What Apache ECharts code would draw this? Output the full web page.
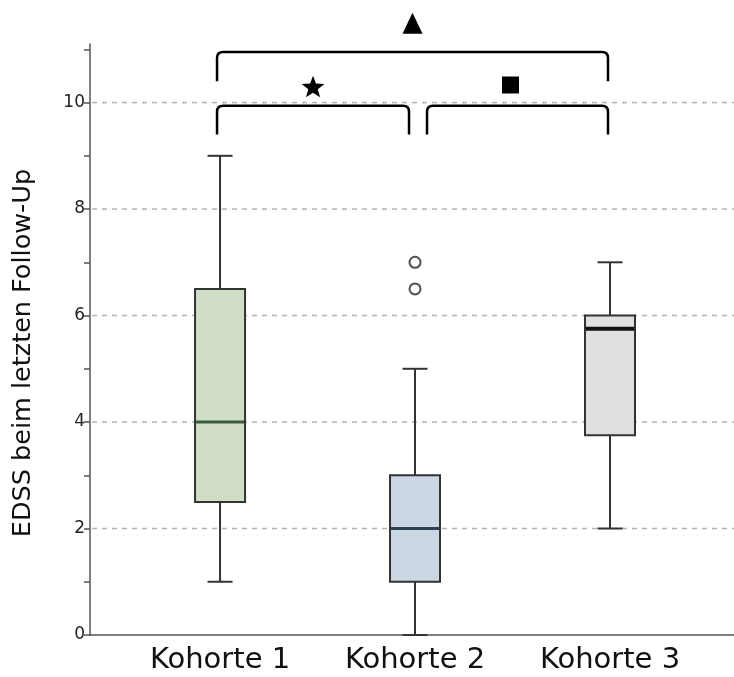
<!DOCTYPE html>
<html>
<head>
<meta charset="utf-8">
<script src="https://cdn.jsdelivr.net/npm/echarts@6/dist/echarts.min.js"></script>
<style>html,body{margin:0;padding:0;background:#fff}#c{width:734px;height:677px}</style>
</head>
<body>
<div id="c"></div>
<script>
const categories = ['Kohorte 1', 'Kohorte 2', 'Kohorte 3'];
const boxMin = [1, 0, 2];
const boxQ1 = [2.5, 1, 3.75];
const boxMedian = [4, 2, 5.75];
const boxQ3 = [6.5, 3, 6];
const boxMax = [9, 5, 7];
const outlierGroup = [2, 2];
const outlierValues = [7, 6.5];
const yTickValues = [0, 1, 2, 3, 4, 5, 6, 7, 8, 9, 10, 11];
const yLabelValues = [0, 2, 4, 6, 8, 10];
const gridValues = [2, 4, 6, 8, 10];
const bracketFrom = [1, 1, 2];
const bracketTo = [3, 2, 3];
const bracketTop = [10.95, 9.94, 9.94];
const bracketLeg = [10.4, 9.4, 9.4];
const markerY = [11.48, 10.28, 10.33];
const markerKind = ['triangle', 'star', 'square'];
const yTitle = 'EDSS beim letzten Follow-Up';

const FONT = 'DejaVu Sans';
const fills = ['#d0dec8', '#cbd7e2', '#e0e0e0'];
const medianColors = ['#3b5a3b', '#2d4255', '#111111'];
const medianWidths = [3, 3, 4];
const bracketNudge = [[-3, -2], [-3, -6], [12, -2]];
const markerNudge = [0, 0, -7];

const boxData = categories.map((c, i) => [i + 1, boxMin[i], boxQ1[i], boxMedian[i], boxQ3[i], boxMax[i]]);
const bracketData = bracketFrom.map((f, i) => [f, bracketTo[i], bracketTop[i], bracketLeg[i], markerY[i], i]);
const outlierData = outlierGroup.map((g, i) => [g, outlierValues[i]]);
const gridData = gridValues.map(v => [1, v]);

function renderGrid(params, api) {
  const p = api.coord([api.value(0), api.value(1)]);
  const cs = params.coordSys;
  return {
    type: 'line',
    shape: { x1: cs.x + 2, y1: p[1], x2: cs.x + cs.width, y2: p[1] },
    style: { stroke: '#b3b3b3', lineWidth: 1.5, lineDash: [5, 5] }
  };
}

function renderBox(params, api) {
  const i = params.dataIndex;
  const x = api.value(0);
  const pMin = api.coord([x, api.value(1)]);
  const pQ1 = api.coord([x, api.value(2)]);
  const pMed = api.coord([x, api.value(3)]);
  const pQ3 = api.coord([x, api.value(4)]);
  const pMax = api.coord([x, api.value(5)]);
  const cx = pMin[0];
  const bw = 50, cw = 25;
  const ls = { stroke: '#333', lineWidth: 2 };
  return {
    type: 'group',
    children: [
      { type: 'line', shape: { x1: cx, y1: pMax[1], x2: cx, y2: pQ3[1] }, style: ls },
      { type: 'line', shape: { x1: cx, y1: pQ1[1], x2: cx, y2: pMin[1] }, style: ls },
      { type: 'line', shape: { x1: cx - cw / 2, y1: pMax[1], x2: cx + cw / 2, y2: pMax[1] }, style: ls },
      { type: 'line', shape: { x1: cx - cw / 2, y1: pMin[1], x2: cx + cw / 2, y2: pMin[1] }, style: ls },
      { type: 'rect', shape: { x: cx - bw / 2, y: pQ3[1], width: bw, height: pQ1[1] - pQ3[1] },
        style: { fill: fills[i], stroke: '#333', lineWidth: 2 } },
      { type: 'line', shape: { x1: cx - bw / 2 + 1, y1: pMed[1], x2: cx + bw / 2 - 1, y2: pMed[1] },
        style: { stroke: medianColors[i], lineWidth: medianWidths[i] } }
    ]
  };
}

function starPoints(cx, cy, ro, ri) {
  const pts = [];
  for (let k = 0; k < 10; k++) {
    const r = k % 2 === 0 ? ro : ri;
    const a = -Math.PI / 2 + k * Math.PI / 5;
    pts.push([cx + r * Math.cos(a), cy + r * Math.sin(a)]);
  }
  return pts;
}

function renderBracket(params, api) {
  const i = api.value(5);
  const pA = api.coord([api.value(0), api.value(2)]);
  const pB = api.coord([api.value(1), api.value(2)]);
  const pLeg = api.coord([api.value(0), api.value(3)]);
  const pM = api.coord([api.value(0), api.value(4)]);
  const x1 = pA[0] + bracketNudge[i][0];
  const x2 = pB[0] + bracketNudge[i][1];
  const yt = pA[1], yl = pLeg[1];
  const r = 6;
  const d = 'M' + x1 + ' ' + yl + ' L' + x1 + ' ' + (yt + r) + ' Q' + x1 + ' ' + yt + ' ' + (x1 + r) + ' ' + yt +
    ' L' + (x2 - r) + ' ' + yt + ' Q' + x2 + ' ' + yt + ' ' + x2 + ' ' + (yt + r) + ' L' + x2 + ' ' + yl;
  const mx = (x1 + x2) / 2 + markerNudge[i];
  const my = pM[1];
  let marker;
  const kind = markerKind[i];
  if (kind === 'triangle') {
    marker = { type: 'polygon', shape: { points: [[mx, my - 11], [mx + 10, my + 10], [mx - 10, my + 10]] }, style: { fill: '#000' } };
  } else if (kind === 'star') {
    marker = { type: 'polygon', shape: { points: starPoints(mx, my, 12, 5) }, style: { fill: '#000' } };
  } else {
    marker = { type: 'rect', shape: { x: mx - 8.5, y: my - 8.5, width: 17, height: 17 }, style: { fill: '#000' } };
  }
  return {
    type: 'group',
    children: [
      { type: 'path', shape: { pathData: d }, style: { fill: null, stroke: '#000', lineWidth: 2.5 } },
      marker
    ]
  };
}

const chart = echarts.init(document.getElementById('c'), null, { renderer: 'canvas' });
chart.setOption({
  backgroundColor: '#fff',
  animation: false,
  grid: { left: 90, right: 0, top: 44, bottom: 42, containLabel: false },
  xAxis: {
    type: 'value', min: 0.333, max: 3.636,
    axisLine: { show: true, lineStyle: { color: '#555', width: 1.5 } },
    axisTick: { show: false },
    splitLine: { show: false },
    axisLabel: {
      customValues: [1, 2, 3],
      formatter: v => categories[Math.round(v) - 1] || '',
      fontFamily: FONT, fontSize: 29, color: '#111', margin: 11
    }
  },
  yAxis: {
    type: 'value', min: 0, max: 11.1,
    axisLine: { show: true, lineStyle: { color: '#555', width: 1.5 } },
    axisTick: { show: true, customValues: yTickValues, length: 6, lineStyle: { color: '#555', width: 1.5 } },
    splitLine: { show: false },
    axisLabel: { customValues: yLabelValues, fontFamily: FONT, fontSize: 17, color: '#222', margin: 5 }
  },
  graphic: [{
    type: 'text', x: 23, y: 353, rotation: Math.PI / 2,
    style: { text: yTitle, font: '25.5px "DejaVu Sans"', fill: '#111', textAlign: 'center', textVerticalAlign: 'middle' }
  }],
  series: [
    { type: 'custom', name: 'grid', data: gridData, renderItem: renderGrid, silent: true, z: 1 },
    { type: 'custom', name: 'boxes', data: boxData, renderItem: renderBox, z: 3 },
    {
      type: 'scatter', name: 'outliers', data: outlierData, symbol: 'circle', symbolSize: 11, z: 4,
      itemStyle: { color: '#fff', borderColor: '#222', borderWidth: 2 }
    },
    { type: 'custom', name: 'brackets', data: bracketData, renderItem: renderBracket, clip: false, z: 5 }
  ]
});
</script>
</body>
</html>
